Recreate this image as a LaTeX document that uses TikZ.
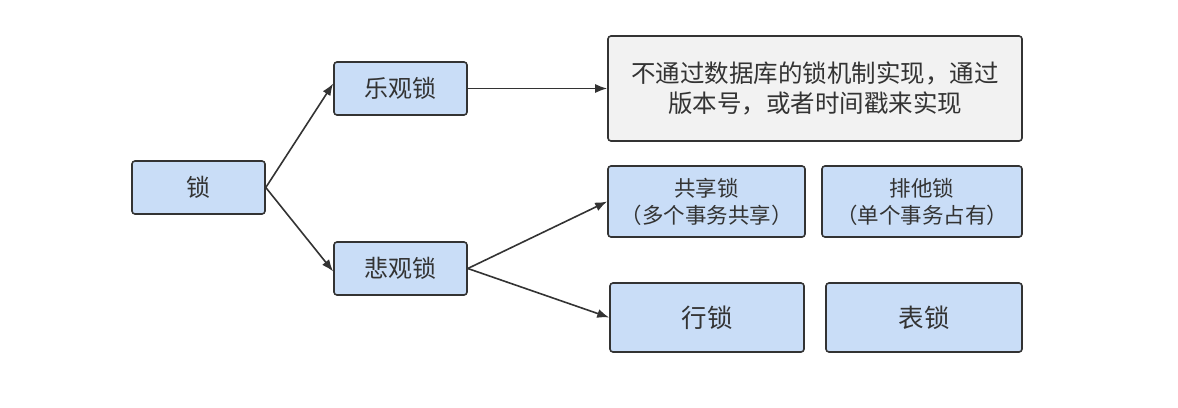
\documentclass[tikz,border=0pt]{standalone}
\usepackage{fontspec}
\setmainfont{Noto Sans CJK SC}
\usetikzlibrary{arrows.meta}
\definecolor{boxblue}{HTML}{C9DDF7}
\definecolor{boxgray}{HTML}{F2F2F2}
\definecolor{ink}{HTML}{333333}
\begin{document}
\begin{tikzpicture}[x=1pt,y=-1pt,
  box/.style={draw=ink,line width=1.6pt,rounded corners=3pt,fill=boxblue,text=ink,align=center,inner sep=0pt,font=\fontsize{24}{28}\selectfont},
  conn/.style={draw=ink,line width=1.6pt,-{Latex[length=12pt,width=9pt]}}]
\useasboundingbox (0,0) rectangle (1178,407);
\node[box,minimum width=133pt,minimum height=53pt] (lock) at (198.5,187.5) {锁};
\node[box,minimum width=133pt,minimum height=53pt] (opt) at (400.5,88.5) {乐观锁};
\node[box,minimum width=133pt,minimum height=53pt] (pes) at (400.5,268.5) {悲观锁};
\node[box,fill=boxgray,minimum width=414pt,minimum height=105pt,font=\fontsize{24.5}{30}\selectfont] (desc) at (815,88.5) {不通过数据库的锁机制实现，通过\\版本号，或者时间戳来实现};
\node[box,minimum width=197pt,minimum height=71pt,font=\fontsize{21.5}{27}\selectfont] (share) at (706.5,201.5) {共享锁\\（多个事务共享）};
\node[box,minimum width=200pt,minimum height=71pt,font=\fontsize{21.5}{27}\selectfont] (excl) at (922,201.5) {排他锁\\（单个事务占有）};
\node[box,minimum width=194pt,minimum height=69pt,font=\fontsize{25.5}{28}\selectfont] (row) at (707,317.5) {行锁};
\node[box,minimum width=196pt,minimum height=69pt,font=\fontsize{25.5}{28}\selectfont] (table) at (924,317.5) {表锁};
\draw[conn] (lock.east) -- ([yshift=5pt]opt.west);
\draw[conn] (lock.east) -- ([yshift=-3pt]pes.west);
\draw[conn] (opt.east) -- (opt.east -| desc.west);
\draw[conn] (pes.east) -- (share.west);
\draw[conn] (pes.east) -- (row.west);
\end{tikzpicture}
\end{document}
